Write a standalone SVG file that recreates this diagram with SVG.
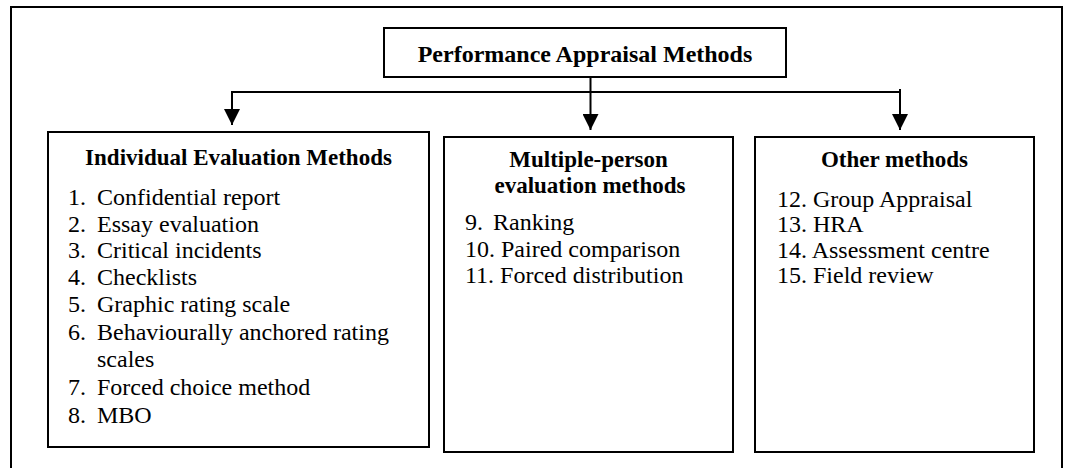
<svg xmlns="http://www.w3.org/2000/svg" width="1068" height="468" viewBox="0 0 1068 468">
<defs>
<style>
.box{fill:#fff;stroke:#000;stroke-width:2}
.frame{fill:none;stroke:#000;stroke-width:2}
.con{fill:none;stroke:#000;stroke-width:2}
text{font-family:"Liberation Serif","Times New Roman",serif;fill:#000}
.t{font-size:24px;font-weight:bold}
.h{font-size:23px;font-weight:bold}
.i{font-size:24px}
</style>
<marker id="arr" markerUnits="userSpaceOnUse" markerWidth="16" markerHeight="16" refX="16" refY="8" orient="auto" viewBox="0 0 16 16">
<path d="M0,0 L16,8 L0,16 z" fill="#000"/>
</marker>
</defs>
<rect width="1068" height="468" fill="#fff"/>
<path class="frame" d="M11,468 V7 H1062 V468"/>
<g id="connectors">
<path class="con" d="M590.5,77 V130" marker-end="url(#arr)"/>
<path class="con" d="M232,92 H900"/>
<path class="con" d="M232,91 V125" marker-end="url(#arr)"/>
<path class="con" d="M900,89 V130" marker-end="url(#arr)"/>
</g>
<g id="root">
<rect class="box" x="384" y="28" width="402" height="49"/>
<text class="t" x="585" y="62" text-anchor="middle">Performance Appraisal Methods</text>
</g>
<g id="individual">
<rect class="box" x="48" y="132" width="381" height="315"/>
<text class="h" x="238.5" y="165" text-anchor="middle">Individual Evaluation Methods</text>
<g class="i">
<text class="i" x="68" y="205">1.</text><text class="i" x="97" y="205">Confidential report</text>
<text class="i" x="68" y="232">2.</text><text class="i" x="97" y="232">Essay evaluation</text>
<text class="i" x="68" y="258">3.</text><text class="i" x="97" y="258">Critical incidents</text>
<text class="i" x="68" y="285">4.</text><text class="i" x="97" y="285">Checklists</text>
<text class="i" x="68" y="312">5.</text><text class="i" x="97" y="312">Graphic rating scale</text>
<text class="i" x="68" y="340">6.</text><text class="i" x="97" y="340">Behaviourally anchored rating</text>
<text class="i" x="97" y="367">scales</text>
<text class="i" x="68" y="395">7.</text><text class="i" x="97" y="395">Forced choice method</text>
<text class="i" x="68" y="423">8.</text><text class="i" x="97" y="423">MBO</text>
</g>
</g>
<g id="multiple">
<rect class="box" x="444" y="137" width="289" height="315"/>
<text class="h" x="588.5" y="167" text-anchor="middle">Multiple-person</text>
<text class="h" x="590" y="193" text-anchor="middle">evaluation methods</text>
<text class="i" x="465" y="230">9.</text><text class="i" x="493" y="230">Ranking</text>
<text class="i" x="465" y="257">10. Paired comparison</text>
<text class="i" x="465" y="283">11. Forced distribution</text>
</g>
<g id="other">
<rect class="box" x="755" y="137" width="279" height="315"/>
<text class="h" x="894.5" y="167" text-anchor="middle">Other methods</text>
<text class="i" x="777" y="207">12. Group Appraisal</text>
<text class="i" x="777" y="232">13. HRA</text>
<text class="i" x="777" y="258">14. Assessment centre</text>
<text class="i" x="777" y="283">15. Field review</text>
</g>
</svg>
